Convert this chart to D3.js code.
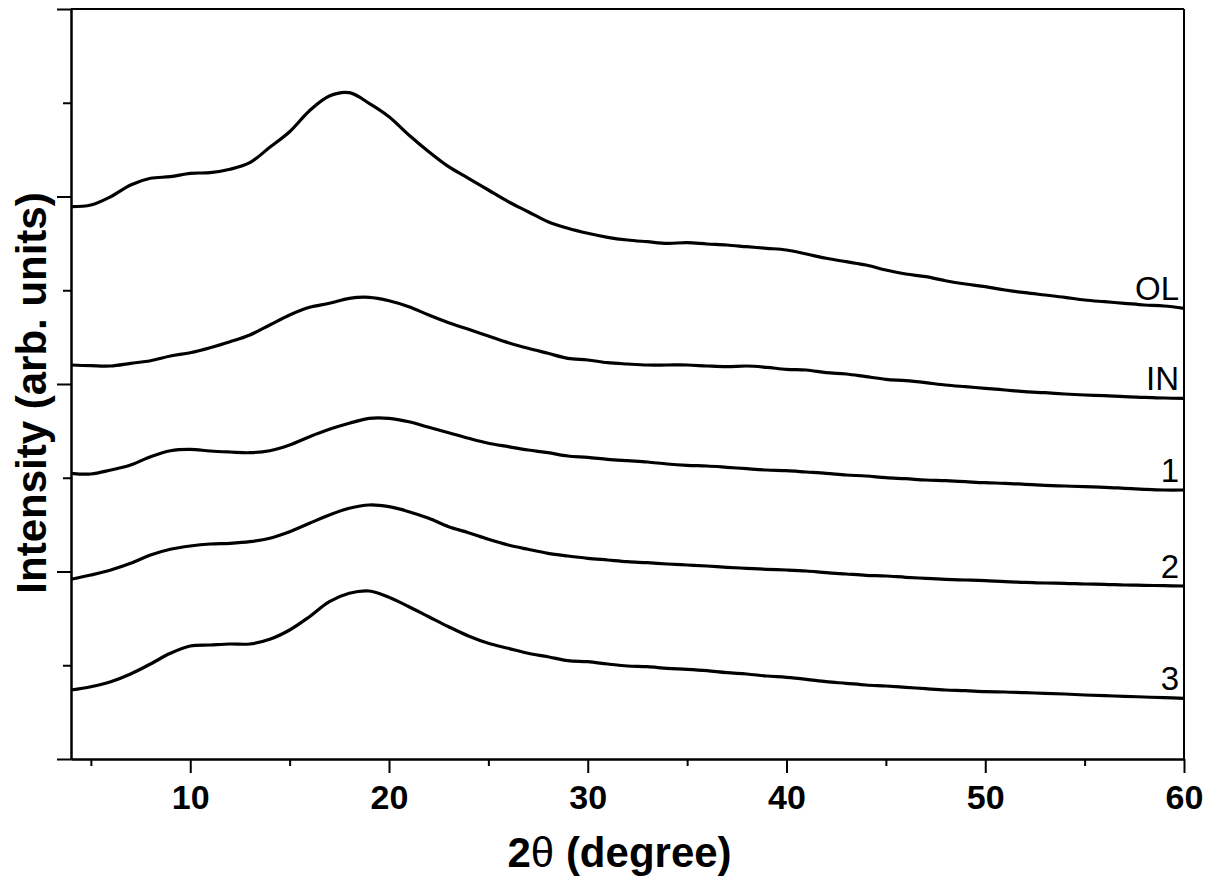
<!DOCTYPE html>
<html>
<head>
<meta charset="utf-8">
<script src="https://cdn.jsdelivr.net/npm/d3@7"></script>
<style>
  html, body { margin: 0; padding: 0; background: #fff; }
  svg { display: block; font-family: "Liberation Sans", Arial, Helvetica, sans-serif; }
</style>
</head>
<body>
<svg width="1215" height="887"></svg>
<script>
// 2-theta grid (degree)
var twoTheta = [4, 5, 6, 7, 8, 9, 10, 11, 12, 13, 14, 15, 16, 17, 18, 19, 20, 21, 22, 23, 24, 25, 26, 27, 28, 29, 30, 31,
  32, 33, 34, 35, 36, 37, 38, 39, 40, 41, 42, 43, 44, 45, 46, 47, 48, 49, 50, 51, 52, 53, 54, 55, 56, 57, 58, 59, 60];

// intensities (arb. units, already stacked with offsets)
var seriesOL = [552.3, 554, 562.3, 574, 580.7, 582.3, 585.7, 586.3, 589.7, 596.3, 611.7, 627.3, 648.3, 663, 666.3, 655.7,
  642.3, 624, 607.3, 592.3, 580.7, 569, 557.3, 547.3, 537.3, 530.7, 525.7, 521.7, 519, 517.3, 515.7, 516.3, 515, 514,
  512.3, 510.7, 509, 505, 500.7, 497.3, 494, 489, 485, 482.3, 478.3, 475, 472.3, 469, 466.3, 464, 461.7, 459, 457.3,
  455.7, 454, 453, 450.7];
var seriesIN = [394, 393.3, 393, 395.7, 398.3, 403, 406.3, 411.3, 417.3, 424, 434, 444, 451.7, 455.7, 460.7, 461.7,
  458.3, 452.3, 444, 436.3, 429.7, 423, 416.3, 410.7, 405.7, 400.7, 399, 396.3, 395, 394, 394, 394, 393, 392.3, 393,
  391.7, 389.7, 389, 386.3, 385, 382.3, 379.7, 378.3, 376.3, 374, 372.3, 370.7, 369, 367.3, 366.3, 365, 364, 363.3,
  362.3, 361.7, 361, 360.7];
var series1 = [285.7, 285, 289, 294, 302.3, 308.3, 309.7, 308, 307, 306.3, 308.3, 314, 322.3, 329.7, 335.7, 340.7, 340.7,
  337.3, 331.7, 326.3, 320.7, 315.7, 312.3, 309, 306.3, 303, 301.7, 299.7, 298.3, 297, 295, 293.7, 293, 291.7, 290.3,
  289, 288.3, 287, 285.7, 284, 283, 281.3, 280.3, 279, 278.3, 277.3, 276.3, 275.7, 274.7, 273.7, 273, 272.3, 271.7,
  270.7, 269.7, 269, 269];
var series2 = [179.7, 184, 189, 195.7, 204, 209.7, 213, 215, 215.7, 217.3, 220.7, 227.3, 235.7, 244, 250.7, 254, 252.3,
  247.3, 240.7, 232.3, 226.3, 219.7, 214, 209.7, 205.7, 203, 200.7, 199, 197.3, 196.3, 195, 194, 193, 191.7, 190.7,
  189.7, 189, 188, 186.3, 185, 183.7, 183, 181.7, 180.7, 179.7, 179, 178.3, 177.3, 176.7, 176, 175.7, 175, 174.7, 174,
  173.7, 173.3, 173];
var series3 = [69, 72.3, 77.3, 85, 95, 105.7, 113, 114, 115, 115, 119.7, 129, 142.3, 157.3, 165.7, 168, 161.7, 152.3,
  142.3, 132.3, 123, 115.7, 110.7, 105.7, 102.3, 98.3, 97.3, 95, 93, 92.3, 90.7, 89.7, 88.3, 86.3, 85, 83, 81.7, 79.7,
  77.3, 75.7, 74, 73, 71.7, 70.3, 69, 68.3, 67.3, 67, 66.3, 65.7, 65, 64, 63.3, 62.7, 62, 61.3, 60.7];

var seriesNames = ["OL", "IN", "1", "2", "3"];
var seriesValues = [seriesOL, seriesIN, series1, series2, series3];

// axis ticks
var xMajorTicks = [10, 20, 30, 40, 50, 60];
var xMinorTicks = [5, 15, 25, 35, 45, 55];
var yMajorTicks = [0, 187.5, 375, 562.5, 750];
var yMinorTicks = [93.75, 281.25, 468.75, 656.25];

var svg = d3.select("svg"),
    margin = {top: 9, right: 31, bottom: 128, left: 71},
    width = +svg.attr("width") - margin.left - margin.right,
    height = +svg.attr("height") - margin.top - margin.bottom,
    g = svg.append("g").attr("transform", "translate(" + margin.left + "," + margin.top + ")");

var x = d3.scaleLinear().domain([4, 60]).range([0, width]);
var y = d3.scaleLinear().domain([0, 750]).range([height, 0]);

var line = d3.line()
    .x(function(d) { return x(d[0]); })
    .y(function(d) { return y(d[1]); })
    .curve(d3.curveCatmullRom);

// curves
g.append("g")
  .selectAll("path")
  .data(seriesValues)
  .enter().append("path")
    .attr("fill", "none")
    .attr("stroke", "#000")
    .attr("stroke-width", 3.2)
    .attr("stroke-linejoin", "round")
    .attr("d", function(vals) { return line(vals.map(function(v, i) { return [twoTheta[i], v]; })); });

// curve labels
g.append("g")
    .attr("font-size", 33)
    .attr("text-anchor", "end")
  .selectAll("text")
  .data(seriesNames)
  .enter().append("text")
    .attr("x", width - 5)
    .attr("y", function(d, i) { var v = seriesValues[i]; return y(v[v.length - 1]) - 8; })
    .text(function(d) { return d; });

// bottom axis
var xAxis = g.append("g")
    .attr("transform", "translate(0," + height + ")")
    .call(d3.axisBottom(x).tickValues(xMajorTicks).tickSize(14).tickPadding(12).tickSizeOuter(0));
xAxis.selectAll("text").attr("font-size", 34).attr("font-weight", "bold").attr("fill", "#000")
    .attr("font-family", "\"Liberation Sans\", Arial, sans-serif");
g.append("g")
    .attr("transform", "translate(0," + height + ")")
    .call(d3.axisBottom(x).tickValues(xMinorTicks).tickSize(7).tickFormat("").tickSizeOuter(0));

// left axis
g.append("g")
    .call(d3.axisLeft(y).tickValues(yMajorTicks).tickSize(14).tickFormat("").tickSizeOuter(0));
g.append("g")
    .call(d3.axisLeft(y).tickValues(yMinorTicks).tickSize(8).tickFormat("").tickSizeOuter(0));

// frame top and right
g.append("line").attr("x1", 0).attr("x2", width).attr("y1", 0).attr("y2", 0);
g.append("line").attr("x1", width).attr("x2", width).attr("y1", 0).attr("y2", height);
g.selectAll("line").attr("stroke", "#000");
g.selectAll(".domain, .tick line").attr("stroke", "#000").attr("stroke-width", 2);
g.selectAll("g > line").attr("stroke-width", 2);

// axis titles
svg.append("text")
    .attr("x", margin.left + x(31.6))
    .attr("y", 867)
    .attr("text-anchor", "middle")
    .attr("font-size", 42)
    .attr("font-weight", "bold")
    .text("2")
  .append("tspan")
    .attr("font-weight", "normal")
    .text("θ")
  .select(function() { return this.parentNode; })
  .append("tspan")
    .text(" (degree)");

svg.append("text")
    .attr("transform", "translate(46," + (margin.top + y(366)) + ") rotate(-90)")
    .attr("text-anchor", "middle")
    .attr("font-size", 42)
    .attr("font-weight", "bold")
    .text("Intensity (arb. units)");
</script>
</body>
</html>
